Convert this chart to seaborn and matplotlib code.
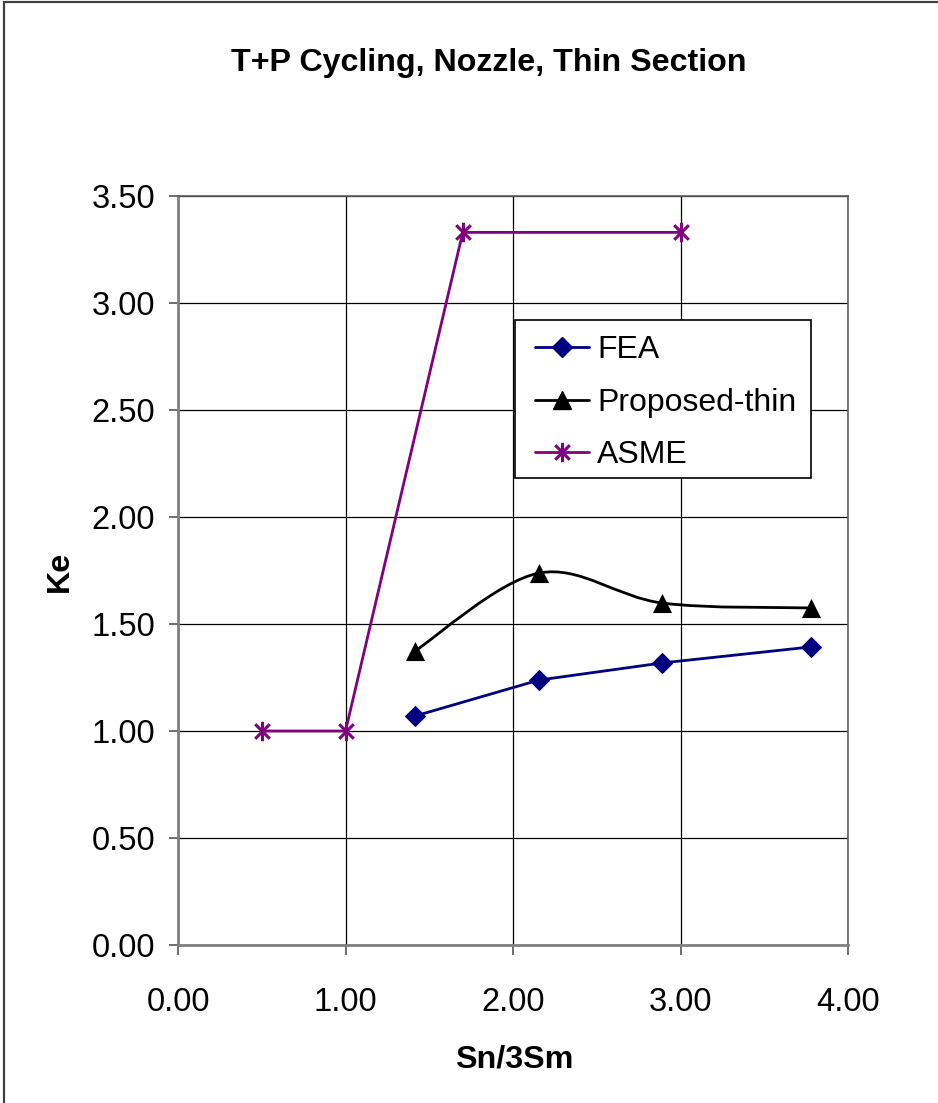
import numpy as np
import pandas as pd
import seaborn as sns
import matplotlib
matplotlib.use("Agg")
import matplotlib.pyplot as plt
from matplotlib.path import Path
from matplotlib.patches import PathPatch, Rectangle
from matplotlib.lines import Line2D

# ---- data ----
fea_x = [1.415, 2.155, 2.89, 3.78]
fea_y = [1.07, 1.238, 1.318, 1.393]

thin_x = [1.415, 2.155, 2.89, 3.78]
thin_y = [1.374, 1.738, 1.598, 1.575]

asme_x = [0.5, 1.0, 1.7, 3.0]
asme_y = [1.0, 1.0, 3.33, 3.33]

series_names = ["FEA", "Proposed-thin", "ASME"]
x_ticks = [0.0, 1.0, 2.0, 3.0, 4.0]
y_ticks = [0.0, 0.5, 1.0, 1.5, 2.0, 2.5, 3.0, 3.5]

title = "T+P Cycling, Nozzle, Thin Section"
x_label = "Sn/3Sm"
y_label = "Ke"

NAVY = "#000080"
BLACK = "#000000"
PURPLE = "#800080"

sns.set_theme(style="white")
plt.rcParams["font.family"] = ["Liberation Sans", "DejaVu Sans"]
plt.rcParams["text.color"] = "black"
plt.rcParams["axes.labelcolor"] = "black"

W, H = 938, 1103
fig = plt.figure(figsize=(W / 100, H / 100), dpi=100)
fig.patch.set_facecolor("white")
ax = fig.add_axes([178 / W, (H - 945) / H, 670 / W, 749 / H])


def px_to_axes(px, py):
    """Figure pixel position (from top-left) to axes fraction."""
    return (px - 178) / 670, (945 - py) / 749


# asterisk marker: vertical stroke plus an X
ast = Path(
    [(0, -1), (0, 1), (-0.75, -0.75), (0.75, 0.75), (-0.75, 0.75), (0.75, -0.75)],
    [Path.MOVETO, Path.LINETO, Path.MOVETO, Path.LINETO, Path.MOVETO, Path.LINETO],
)

LW = 2.0

df_fea = pd.DataFrame({"x": fea_x, "y": fea_y})
df_thin = pd.DataFrame({"x": thin_x, "y": thin_y})
df_asme = pd.DataFrame({"x": asme_x, "y": asme_y})

sns.lineplot(data=df_fea, x="x", y="y", ax=ax, color=NAVY, linewidth=LW,
             marker="D", markersize=10, markeredgecolor=NAVY, sort=False,
             legend=False, zorder=4)
sns.lineplot(data=df_asme, x="x", y="y", ax=ax, color=PURPLE, linewidth=LW,
             marker=ast, markersize=14, markeredgewidth=2.2,
             markeredgecolor=PURPLE, sort=False, legend=False, zorder=4)

# smoothed line through the proposed-thin points (Catmull-Rom as cubic Beziers)
pts = np.column_stack([thin_x, thin_y])
verts = [tuple(pts[0])]
codes = [Path.MOVETO]
n = len(pts)
for i in range(n - 1):
    p_prev = pts[i - 1] if i > 0 else pts[i]
    p0, p1 = pts[i], pts[i + 1]
    p_next = pts[i + 2] if i + 2 < n else pts[i + 1]
    c1 = p0 + (p1 - p_prev) / 6.0
    c2 = p1 - (p_next - p0) / 6.0
    verts += [tuple(c1), tuple(c2), tuple(p1)]
    codes += [Path.CURVE4] * 3
ax.add_patch(PathPatch(Path(verts, codes), fill=False, edgecolor=BLACK,
                       linewidth=LW, zorder=4))
sns.scatterplot(data=df_thin, x="x", y="y", ax=ax, color=BLACK, marker="^",
                s=190, edgecolor=BLACK, linewidth=0, legend=False, zorder=5)

ax.set_xlim(0, 4)
ax.set_ylim(0, 3.5)
ax.set_xticks(x_ticks)
ax.set_yticks(y_ticks)
ax.set_xticklabels([f"{v:.2f}" for v in x_ticks])
ax.set_yticklabels([f"{v:.2f}" for v in y_ticks])
ax.grid(True, color="black", linewidth=0.9)
ax.set_axisbelow(True)

for side in ["left", "bottom"]:
    ax.spines[side].set_color("#808080")
    ax.spines[side].set_linewidth(2.0)
for side in ["top", "right"]:
    ax.spines[side].set_color("#606060")
    ax.spines[side].set_linewidth(1.2)

ax.tick_params(axis="x", direction="out", length=7, width=1.2, color="#555555",
               pad=23, labelsize=23.5, labelcolor="black", bottom=True)
ax.tick_params(axis="y", direction="out", length=6.5, width=1.2, color="#555555",
               pad=10, labelsize=23.5, labelcolor="black", left=True)

ax.set_xlabel("")
ax.set_ylabel("")
fig.text(514 / W, 1 - 1060 / H, x_label, ha="center", va="center",
         fontsize=23.2, fontweight="bold", color="black")
fig.text(60 / W, 1 - 571 / H, y_label, ha="center", va="center",
         fontsize=23.2, fontweight="bold", rotation=90, color="black")
fig.text(489 / W, 1 - 63 / H, title, ha="center", va="center",
         fontsize=23.2, fontweight="bold", color="black")

# legend box: white panel with a thin black border, entries placed inside
bx0, by0 = px_to_axes(515, 478)
bx1, by1 = px_to_axes(811, 320)
ax.add_patch(Rectangle((bx0, by0), bx1 - bx0, by1 - by0, transform=ax.transAxes,
                       facecolor="white", edgecolor="black", linewidth=1.2,
                       zorder=6))

handles = [
    Line2D([], [], color=NAVY, linewidth=LW, marker="D", markersize=10,
           markeredgecolor=NAVY),
    Line2D([], [], color=BLACK, linewidth=LW, marker="^", markersize=13),
    Line2D([], [], color=PURPLE, linewidth=LW, marker=ast, markersize=14,
           markeredgewidth=2.2),
]
leg = ax.legend(handles, series_names, loc="upper left",
                bbox_to_anchor=px_to_axes(535, 335.5),
                fontsize=23, frameon=False, borderpad=0, handlelength=1.7,
                handletextpad=0.25, labelspacing=0.7, borderaxespad=0)
leg.set_zorder(7)
for t in leg.get_texts():
    t.set_color("black")

# chart-area border (runs off the right and bottom edges)
fig.patches.append(Rectangle((4 / W, -0.1), 1.2, 1 - 2 / H + 0.1,
                             transform=fig.transFigure, fill=False,
                             edgecolor="#404040", linewidth=1.6))

fig.savefig("out.png", dpi=100, facecolor="white")
